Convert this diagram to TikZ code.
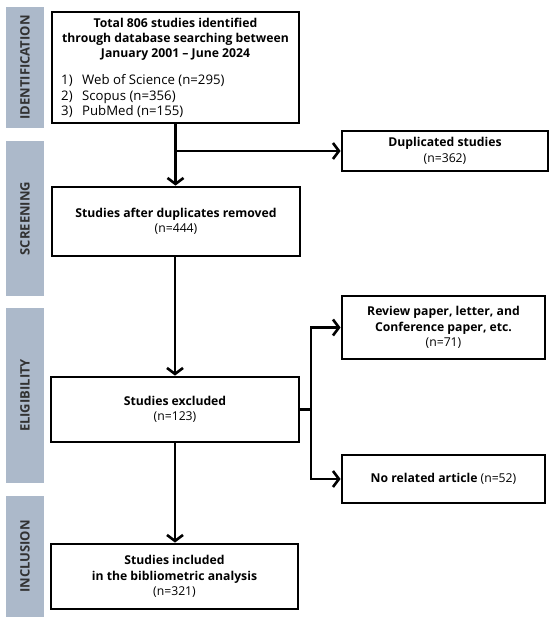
\documentclass[tikz,border=0pt]{standalone}
\usepackage{fontspec}
\setmainfont{Open Sans}
\usetikzlibrary{arrows.meta}
\definecolor{barblue}{RGB}{172,185,202}
\definecolor{bartext}{RGB}{50,50,50}
\begin{document}
\begin{tikzpicture}[x=1pt,y=-1pt,
  box/.style={draw, line width=2.8pt, fill=white, inner sep=0pt, align=center,
    font=\fontsize{12.2}{15.5}\selectfont},
  bar/.style={fill=barblue, draw=none, inner sep=0pt, minimum width=38pt},
  lbl/.style={rotate=90, font=\bfseries\fontsize{13}{14}\selectfont, text=bartext},
  seg/.style={line width=2.6pt},
  conn/.style={line width=2.6pt, -{Straight Barb[length=6pt,width=16pt,line width=2.6pt]}}]
\useasboundingbox[fill=white] (0,0) rectangle (550,621);

% side bars
\node[bar, minimum height=121pt] (bid) at (25,67.5) {};
\node[lbl] (lid) at (bid.center) {IDENTIFICATION};
\node[bar, minimum height=155pt] (bsc) at (25,218.5) {};
\node[lbl] (lsc) at (bsc.center) {SCREENING};
\node[bar, minimum height=175pt] (bel) at (25,395.5) {};
\node[lbl] (lel) at (bel.center) {ELIGIBILITY};
\node[bar, minimum height=121pt] (bin) at (25,556.5) {};
\node[lbl] (lin) at (bin.center) {INCLUSION};

% boxes
\node[box, minimum width=247pt, minimum height=111pt] (b1) at (175.5,67.5) {};
\node[font=\bfseries\fontsize{12.2}{15}\selectfont, align=center, inner sep=0pt] (t1) at (175.5,39)
  {Total 806 studies identified\\through database searching between\\January 2001 -- June 2024};
\node[font=\fontsize{13.2}{15.5}\selectfont, anchor=west, inner sep=0pt] (l1) at (61,97)
  {\begin{tabular}{@{}l@{\hspace{9.5pt}}l@{}}1)&Web of Science (n=295)\\2)&Scopus (n=356)\\3)&PubMed (n=155)\end{tabular}};

\node[box, minimum width=206pt, minimum height=40pt] (dup) at (445,151)
  {\textbf{Duplicated studies}\\(n=362)};
\node[box, minimum width=248pt, minimum height=69pt] (scr) at (176,221.5)
  {\textbf{Studies after duplicates removed}\\(n=444)};
\node[box, minimum width=248pt, minimum height=65pt] (elig) at (175,409.5)
  {\textbf{Studies excluded}\\(n=123)};
\node[box, minimum width=203pt, minimum height=63pt] (rev) at (443.5,327.5)
  {\textbf{Review paper, letter, and}\\\textbf{Conference paper, etc.}\\(n=71)};
\node[box, minimum width=203pt, minimum height=48pt] (nor) at (443.5,479)
  {\textbf{No related article} (n=52)};
\node[box, minimum width=247pt, minimum height=65pt] (inc) at (174.5,576.5)
  {\textbf{Studies included}\\\textbf{in the bibliometric analysis}\\(n=321)};

% connectors
\draw[conn] (b1.south) -- (b1.south |- scr.north);
\coordinate (j1) at (b1.south |- dup.west);
\draw[conn] (j1) -- (dup.west);
\draw[conn] (scr.south -| elig.north) -- (elig.north);
\coordinate (j2) at (311,409.5);
\draw[seg] (elig.east) -- (j2);
\draw[conn] (j2) |- (rev.west);
\draw[conn] (j2) |- (nor.west);
\draw[conn] (elig.south) -- (elig.south |- inc.north);
\end{tikzpicture}
\end{document}
